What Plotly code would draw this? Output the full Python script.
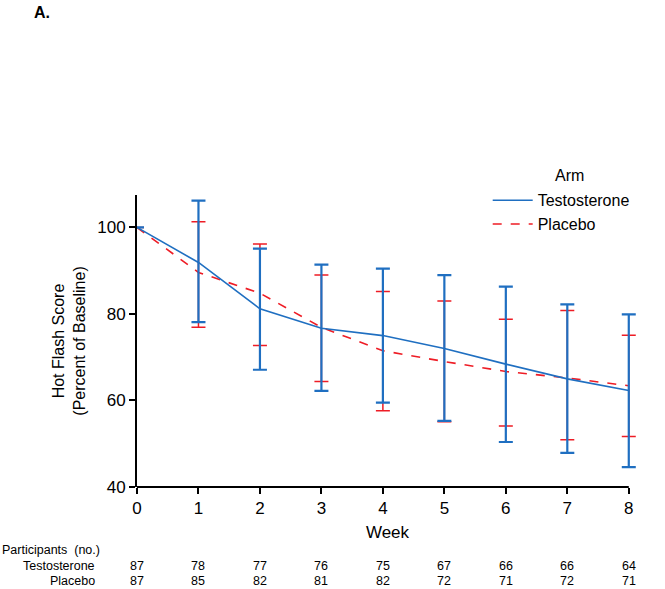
import plotly.graph_objects as go

weeks = [0, 1, 2, 3, 4, 5, 6, 7, 8]

testo_mean = [100, 91.9, 81.2, 76.7, 75.0, 72.0, 68.4, 65.0, 62.3]
testo_upper = [100, 106.2, 95.1, 91.4, 90.5, 89.0, 86.3, 82.2, 79.9]
testo_lower = [100, 78.1, 67.1, 62.2, 59.5, 55.3, 50.4, 47.9, 44.6]

placebo_mean = [100, 89.6, 84.8, 76.9, 71.5, 69.0, 66.7, 65.2, 63.4]
placebo_upper = [100, 101.3, 96.2, 89.0, 85.2, 83.0, 78.8, 80.8, 75.1]
placebo_lower = [100, 76.9, 72.7, 64.4, 57.6, 55.1, 54.1, 50.9, 51.7]

n_testo = [87, 78, 77, 76, 75, 67, 66, 66, 64]
n_placebo = [87, 85, 82, 81, 82, 72, 71, 72, 71]

BLUE = "#1f6fc1"
RED = "#ee1c25"
FONT = "Arial, Liberation Sans, sans-serif"
TBL = 12.5

def err(mean, up, lo):
    return dict(type="data", symmetric=False,
                array=[u - m for u, m in zip(up, mean)],
                arrayminus=[m - l for m, l in zip(mean, lo)])

fig = go.Figure()
e_p = err(placebo_mean, placebo_upper, placebo_lower)
e_p.update(color=RED, thickness=1.5, width=7)
fig.add_trace(go.Scatter(x=weeks, y=placebo_mean, mode="lines", name="Placebo",
                         line=dict(color=RED, width=1.6, dash="dash"),
                         error_y=e_p, cliponaxis=False, legendrank=2))
e_t = err(testo_mean, testo_upper, testo_lower)
e_t.update(color=BLUE, thickness=2.2, width=7)
fig.add_trace(go.Scatter(x=weeks, y=testo_mean, mode="lines", name="Testosterone",
                         line=dict(color=BLUE, width=1.6),
                         error_y=e_t, cliponaxis=False, legendrank=1))

L, R, T, B = 137, 629, 195, 487
XMAX = 8.15
right_px = L + (R - L) * XMAX / 8

fig.update_layout(
    width=665, height=589,
    margin=dict(l=L, r=665 - right_px, t=T, b=589 - B),
    plot_bgcolor="white", paper_bgcolor="white",
    font=dict(family=FONT, size=16, color="black"),
    showlegend=True,
    legend=dict(x=0.70, y=1.04, xanchor="left", yanchor="top",
                font=dict(size=16), bgcolor="rgba(0,0,0,0)",
                tracegroupgap=0, itemwidth=40),
    xaxis=dict(range=[0, XMAX], tickvals=weeks, ticks="outside", ticklen=6,
               tickwidth=1.5, tickcolor="black", showline=False,
               showgrid=False, zeroline=False, tickfont=dict(size=17),
               title=dict(text="Week", standoff=8, font=dict(size=17))),
    yaxis=dict(range=[40, 107.5], tickvals=[40, 60, 80, 100], ticks="outside",
               ticklen=6, tickwidth=1.5, tickcolor="black", showline=True,
               linecolor="black", linewidth=2, showgrid=False, zeroline=False,
               tickfont=dict(size=17),
               title=dict(text="Hot Flash Score<br>(Percent of Baseline)",
                          standoff=8, font=dict(size=16))),
)

# x axis line ends at week 8
fig.add_shape(type="line", xref="x", yref="paper", x0=0, x1=8, y0=0, y1=0,
              line=dict(color="black", width=2))

plot_w = right_px - L
def px(xp):
    return (xp - L) / plot_w
def py(yp):
    return (B - yp) / (B - T)

ann = [dict(text="<b>A.</b>", x=px(32), y=py(12), xref="paper", yref="paper",
            xanchor="left", yanchor="middle", showarrow=False, font=dict(size=16)),
       dict(text="Arm", x=px(553), y=py(175), xref="paper", yref="paper",
            xanchor="left", yanchor="middle", showarrow=False, font=dict(size=16)),
       dict(text="Participants  (no.)", x=px(0), y=py(550), xref="paper", yref="paper",
            xanchor="left", yanchor="middle", showarrow=False, font=dict(size=TBL)),
       dict(text="Testosterone", x=px(97), y=py(566), xref="paper", yref="paper",
            xanchor="right", yanchor="middle", showarrow=False, font=dict(size=TBL)),
       dict(text="Placebo", x=px(97), y=py(581), xref="paper", yref="paper",
            xanchor="right", yanchor="middle", showarrow=False, font=dict(size=TBL))]
for w, a, b in zip(weeks, n_testo, n_placebo):
    ann.append(dict(text=str(a), x=w, y=py(566), xref="x", yref="paper",
                    xanchor="center", yanchor="middle", showarrow=False,
                    font=dict(size=TBL)))
    ann.append(dict(text=str(b), x=w, y=py(581), xref="x", yref="paper",
                    xanchor="center", yanchor="middle", showarrow=False,
                    font=dict(size=TBL)))
fig.update_layout(annotations=ann)

fig.write_html("out.html", config={"displayModeBar": False},
               post_script="document.body.style.margin='0';document.body.style.padding='0';")
